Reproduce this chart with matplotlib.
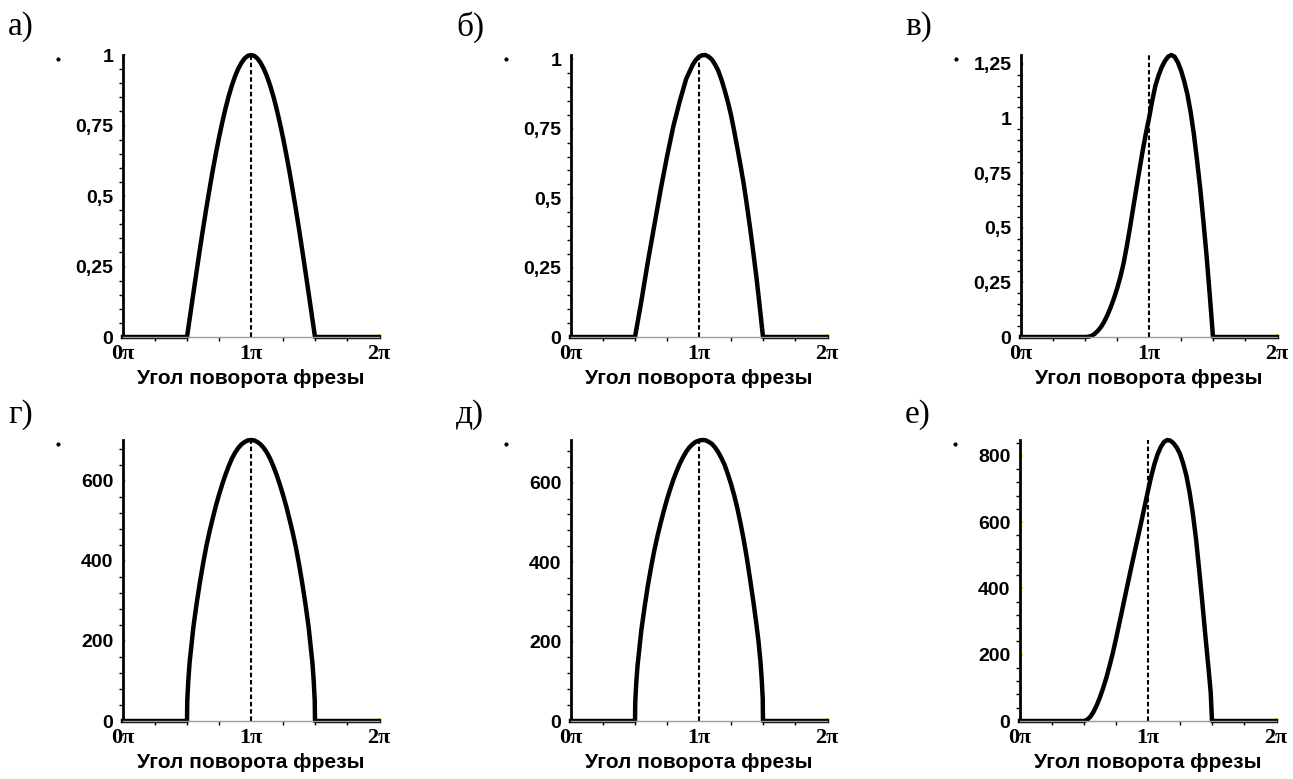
import numpy as np
import matplotlib
matplotlib.use("Agg")
import matplotlib.pyplot as plt
from matplotlib.ticker import MultipleLocator

# angle in units of pi
x_a = [0, 0.5, 0.525, 0.55, 0.575, 0.6, 0.625, 0.65, 0.675, 0.7, 0.725, 0.75, 0.775, 0.8,
       0.825, 0.85, 0.875, 0.9, 0.925, 0.95, 0.975, 1.0, 1.025, 1.05, 1.075, 1.1, 1.125,
       1.15, 1.175, 1.2, 1.225, 1.25, 1.275, 1.3, 1.325, 1.35, 1.375, 1.4, 1.425, 1.45,
       1.475, 1.5, 2.0]
y_a = [0, 0, 0.078, 0.156, 0.233, 0.309, 0.383, 0.454, 0.522, 0.588, 0.649, 0.707, 0.760,
       0.809, 0.853, 0.891, 0.924, 0.951, 0.972, 0.988, 0.997, 1.0, 0.997, 0.988, 0.972,
       0.951, 0.924, 0.891, 0.853, 0.809, 0.760, 0.707, 0.649, 0.588, 0.522, 0.454, 0.383,
       0.309, 0.233, 0.156, 0.078, 0, 0]

x_b = x_a
y_b = [0, 0, 0.065, 0.13, 0.20, 0.27, 0.335, 0.40, 0.465, 0.53, 0.59, 0.65, 0.705, 0.76,
       0.805, 0.85, 0.89, 0.93, 0.955, 0.98, 0.998, 1.01, 1.015, 1.016, 1.01, 1.0, 0.982,
       0.96, 0.928, 0.89, 0.848, 0.80, 0.742, 0.68, 0.617, 0.55, 0.472, 0.39, 0.302, 0.21,
       0.107, 0, 0]

x_v = x_a
y_v = [0, 0, 0.001, 0.005, 0.014, 0.028, 0.046, 0.07, 0.10, 0.135, 0.175, 0.22, 0.272,
       0.333, 0.41, 0.495, 0.585, 0.675, 0.763, 0.85, 0.93, 1.0, 1.08, 1.15, 1.197, 1.235,
       1.263, 1.283, 1.29, 1.282, 1.257, 1.22, 1.17, 1.11, 1.03, 0.93, 0.81, 0.68, 0.53,
       0.37, 0.19, 0, 0]

x_g = [0, 0.5, 0.502, 0.51, 0.52, 0.535, 0.55, 0.575, 0.6, 0.625, 0.65, 0.675, 0.7, 0.725,
       0.75, 0.775, 0.8, 0.825, 0.85, 0.875, 0.9, 0.925, 0.95, 0.975, 1.0, 1.025, 1.05,
       1.075, 1.1, 1.125, 1.15, 1.175, 1.2, 1.225, 1.25, 1.275, 1.3, 1.325, 1.35, 1.375,
       1.4, 1.425, 1.45, 1.465, 1.48, 1.49, 1.498, 1.5, 2.0]
y_g = [0, 0, 50, 100, 145, 190, 235, 293, 345, 392, 435, 472, 505, 537, 565, 591, 615, 636,
       655, 670, 682, 691, 697, 701, 702, 701, 697, 691, 682, 670, 655, 636, 615, 591, 565,
       537, 505, 472, 435, 392, 345, 293, 235, 190, 145, 100, 50, 0, 0]

x_d = x_g
y_d = [0, 0, 48, 97, 140, 185, 230, 287, 340, 386, 428, 465, 498, 529, 558, 584, 608, 629,
       648, 664, 678, 689, 697, 703, 706, 707.5, 707, 703, 698, 689, 677, 662, 645, 622,
       597, 568, 535, 497, 455, 408, 355, 300, 240, 200, 150, 105, 55, 0, 0]

x_e = [0, 0.5, 0.525, 0.55, 0.575, 0.6, 0.625, 0.65, 0.675, 0.7, 0.725, 0.75, 0.775, 0.8,
       0.825, 0.85, 0.875, 0.9, 0.925, 0.95, 0.975, 1.0, 1.025, 1.05, 1.075, 1.1, 1.125,
       1.15, 1.175, 1.2, 1.225, 1.25, 1.275, 1.3, 1.325, 1.35, 1.375, 1.4, 1.425, 1.45,
       1.475, 1.49, 1.5, 2.0]
y_e = [0, 0, 4, 13, 28, 48, 72, 100, 131, 167, 205, 248, 293, 338, 384, 429, 474, 518, 561,
       605, 650, 695, 738, 775, 805, 827, 842, 848, 846, 838, 825, 806, 777, 740, 690, 627,
       550, 455, 355, 250, 150, 85, 0, 0]

panel_letters = ["а)", "б)", "в)", "г)", "д)", "е)"]
xlabel_text = "Угол поворота фрезы"
xtick_labels = ["0π", "1π", "2π"]
yticks_small = [0, 0.25, 0.5, 0.75, 1]
yticks_small_v = [0, 0.25, 0.5, 0.75, 1, 1.25]
yticks_big = [0, 200, 400, 600]
yticks_big_e = [0, 200, 400, 600, 800]

W, H = 1293, 779
fig = plt.figure(figsize=(W / 100, H / 100), dpi=100)

panels = [
    (x_a, y_a, yticks_small, 0.05, 123, 337, 55, 8, 27),
    (x_b, y_b, yticks_small, 0.05, 571, 337, 55, 456, 27),
    (x_v, y_v, yticks_small_v, 0.05, 1021, 337, 55, 905, 27),
    (x_g, y_g, yticks_big, 40, 123, 721, 440, 8, 415),
    (x_d, y_d, yticks_big, 40, 571, 721, 440, 456, 415),
    (x_e, y_e, yticks_big_e, 40, 1020, 721, 440, 905, 415),
]


def fmt(v):
    return ("%g" % v).replace(".", ",")


for i, (xs, ys, yt, minor, left, bottom, top, lx, ly) in enumerate(panels):
    ax = fig.add_axes([left / W, 1 - bottom / H, 256 / W, (bottom - top) / H])
    ymax = max(ys)
    ax.axvline(1.0, color="black", lw=1.5, linestyle=(0, (2.2, 1.3)))
    ax.plot(xs, ys, color="black", lw=3.2, clip_on=False, solid_joinstyle="round")
    ax.set_xlim(0, 2)
    ax.set_ylim(0, ymax)

    for s in ["top", "right"]:
        ax.spines[s].set_visible(False)
    ax.spines["left"].set_linewidth(2)
    ax.spines["left"].set_color("black")
    ax.spines["bottom"].set_linewidth(1)
    ax.spines["bottom"].set_color("#9a9a9a")

    ax.set_xticks([0, 1, 2])
    ax.set_xticklabels(xtick_labels, family="Liberation Serif", fontsize=16, fontweight="bold")
    ax.xaxis.set_minor_locator(MultipleLocator(0.25))
    ax.set_yticks(yt)
    ax.set_yticklabels([fmt(v) for v in yt], family="Liberation Sans", fontsize=14, fontweight="bold")
    ax.yaxis.set_minor_locator(MultipleLocator(minor))
    ax.tick_params(which="major", direction="in", length=2, width=1.5, color="#e8e800")
    ax.tick_params(axis="y", which="major", pad=7)
    ax.tick_params(axis="x", which="major", pad=5)
    ax.tick_params(which="minor", direction="out", length=3, width=1, color="black")

    ax.set_xlabel(xlabel_text, family="Liberation Sans", fontsize=15, fontweight="bold", labelpad=4)
    ax.plot([-0.255], [0.985], marker="o", ms=2, color="black", transform=ax.transAxes, clip_on=False)

    fig.text(lx / W, 1 - ly / H, panel_letters[i], family="Liberation Serif", fontsize=24,
             ha="left", va="center")

fig.savefig("out.png", dpi=100)
